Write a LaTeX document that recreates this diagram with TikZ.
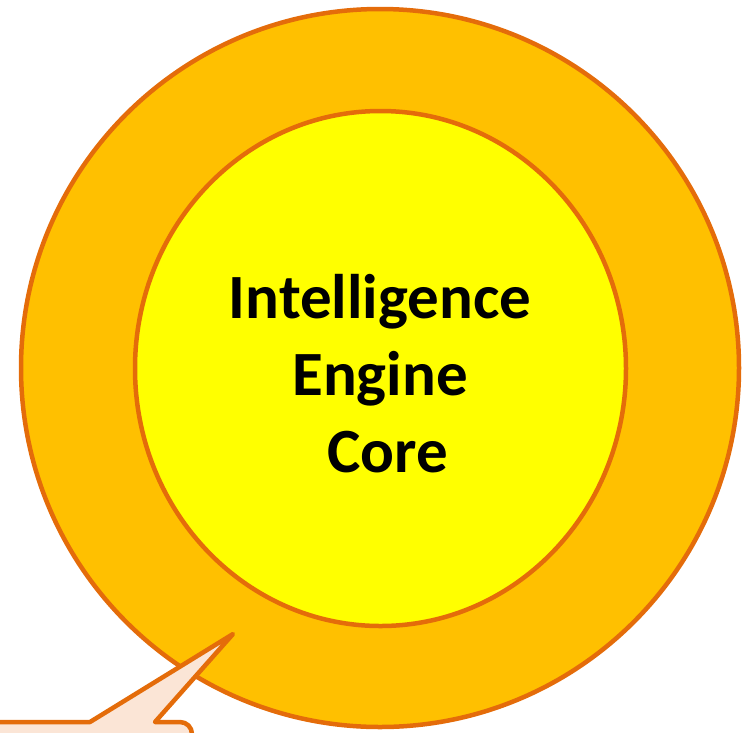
\documentclass[tikz,border=0pt]{standalone}
\usepackage{fontspec}
\setmainfont{Carlito}
\usepackage{tikz}
\usetikzlibrary{shapes.geometric}

\definecolor{ringfill}{HTML}{FFC000}
\definecolor{corefill}{HTML}{FFFF00}
\definecolor{edgeorange}{HTML}{E46C0A}
\definecolor{notefill}{HTML}{FBE5D6}

\begin{document}
\begin{tikzpicture}[x=1pt,y=-1pt,
    ring/.style = {ellipse, draw=edgeorange, line width=4.5pt, inner sep=0pt},
    label/.style = {align=center, font=\fontsize{63}{77}\selectfont\bfseries},
    note/.style = {draw=edgeorange, fill=notefill, line width=4.5pt, line join=round}]
  \useasboundingbox (0,0) rectangle (747,732);
  \clip (0,0) rectangle (747,732);

  \node (outer) [ring, fill=ringfill, minimum width=718pt, minimum height=718pt] at (380,368) {};
  \node (inner) [ring, fill=corefill, minimum width=491pt, minimum height=515pt] at (380.5,368.5) {};
  \node (core) [label] at (380,374) {Intelligence\\Engine\\\hspace*{0.25em}Core};

  % callout at the bottom
  \coordinate (tip) at (233,634);
  \draw[note] (-10,722) -- (90,722) -- (tip) -- (155,722)
    [rounded corners=12pt] -- (192,722) -- (192,760)
    [sharp corners] -- (-10,760) -- cycle;
\end{tikzpicture}
\end{document}
